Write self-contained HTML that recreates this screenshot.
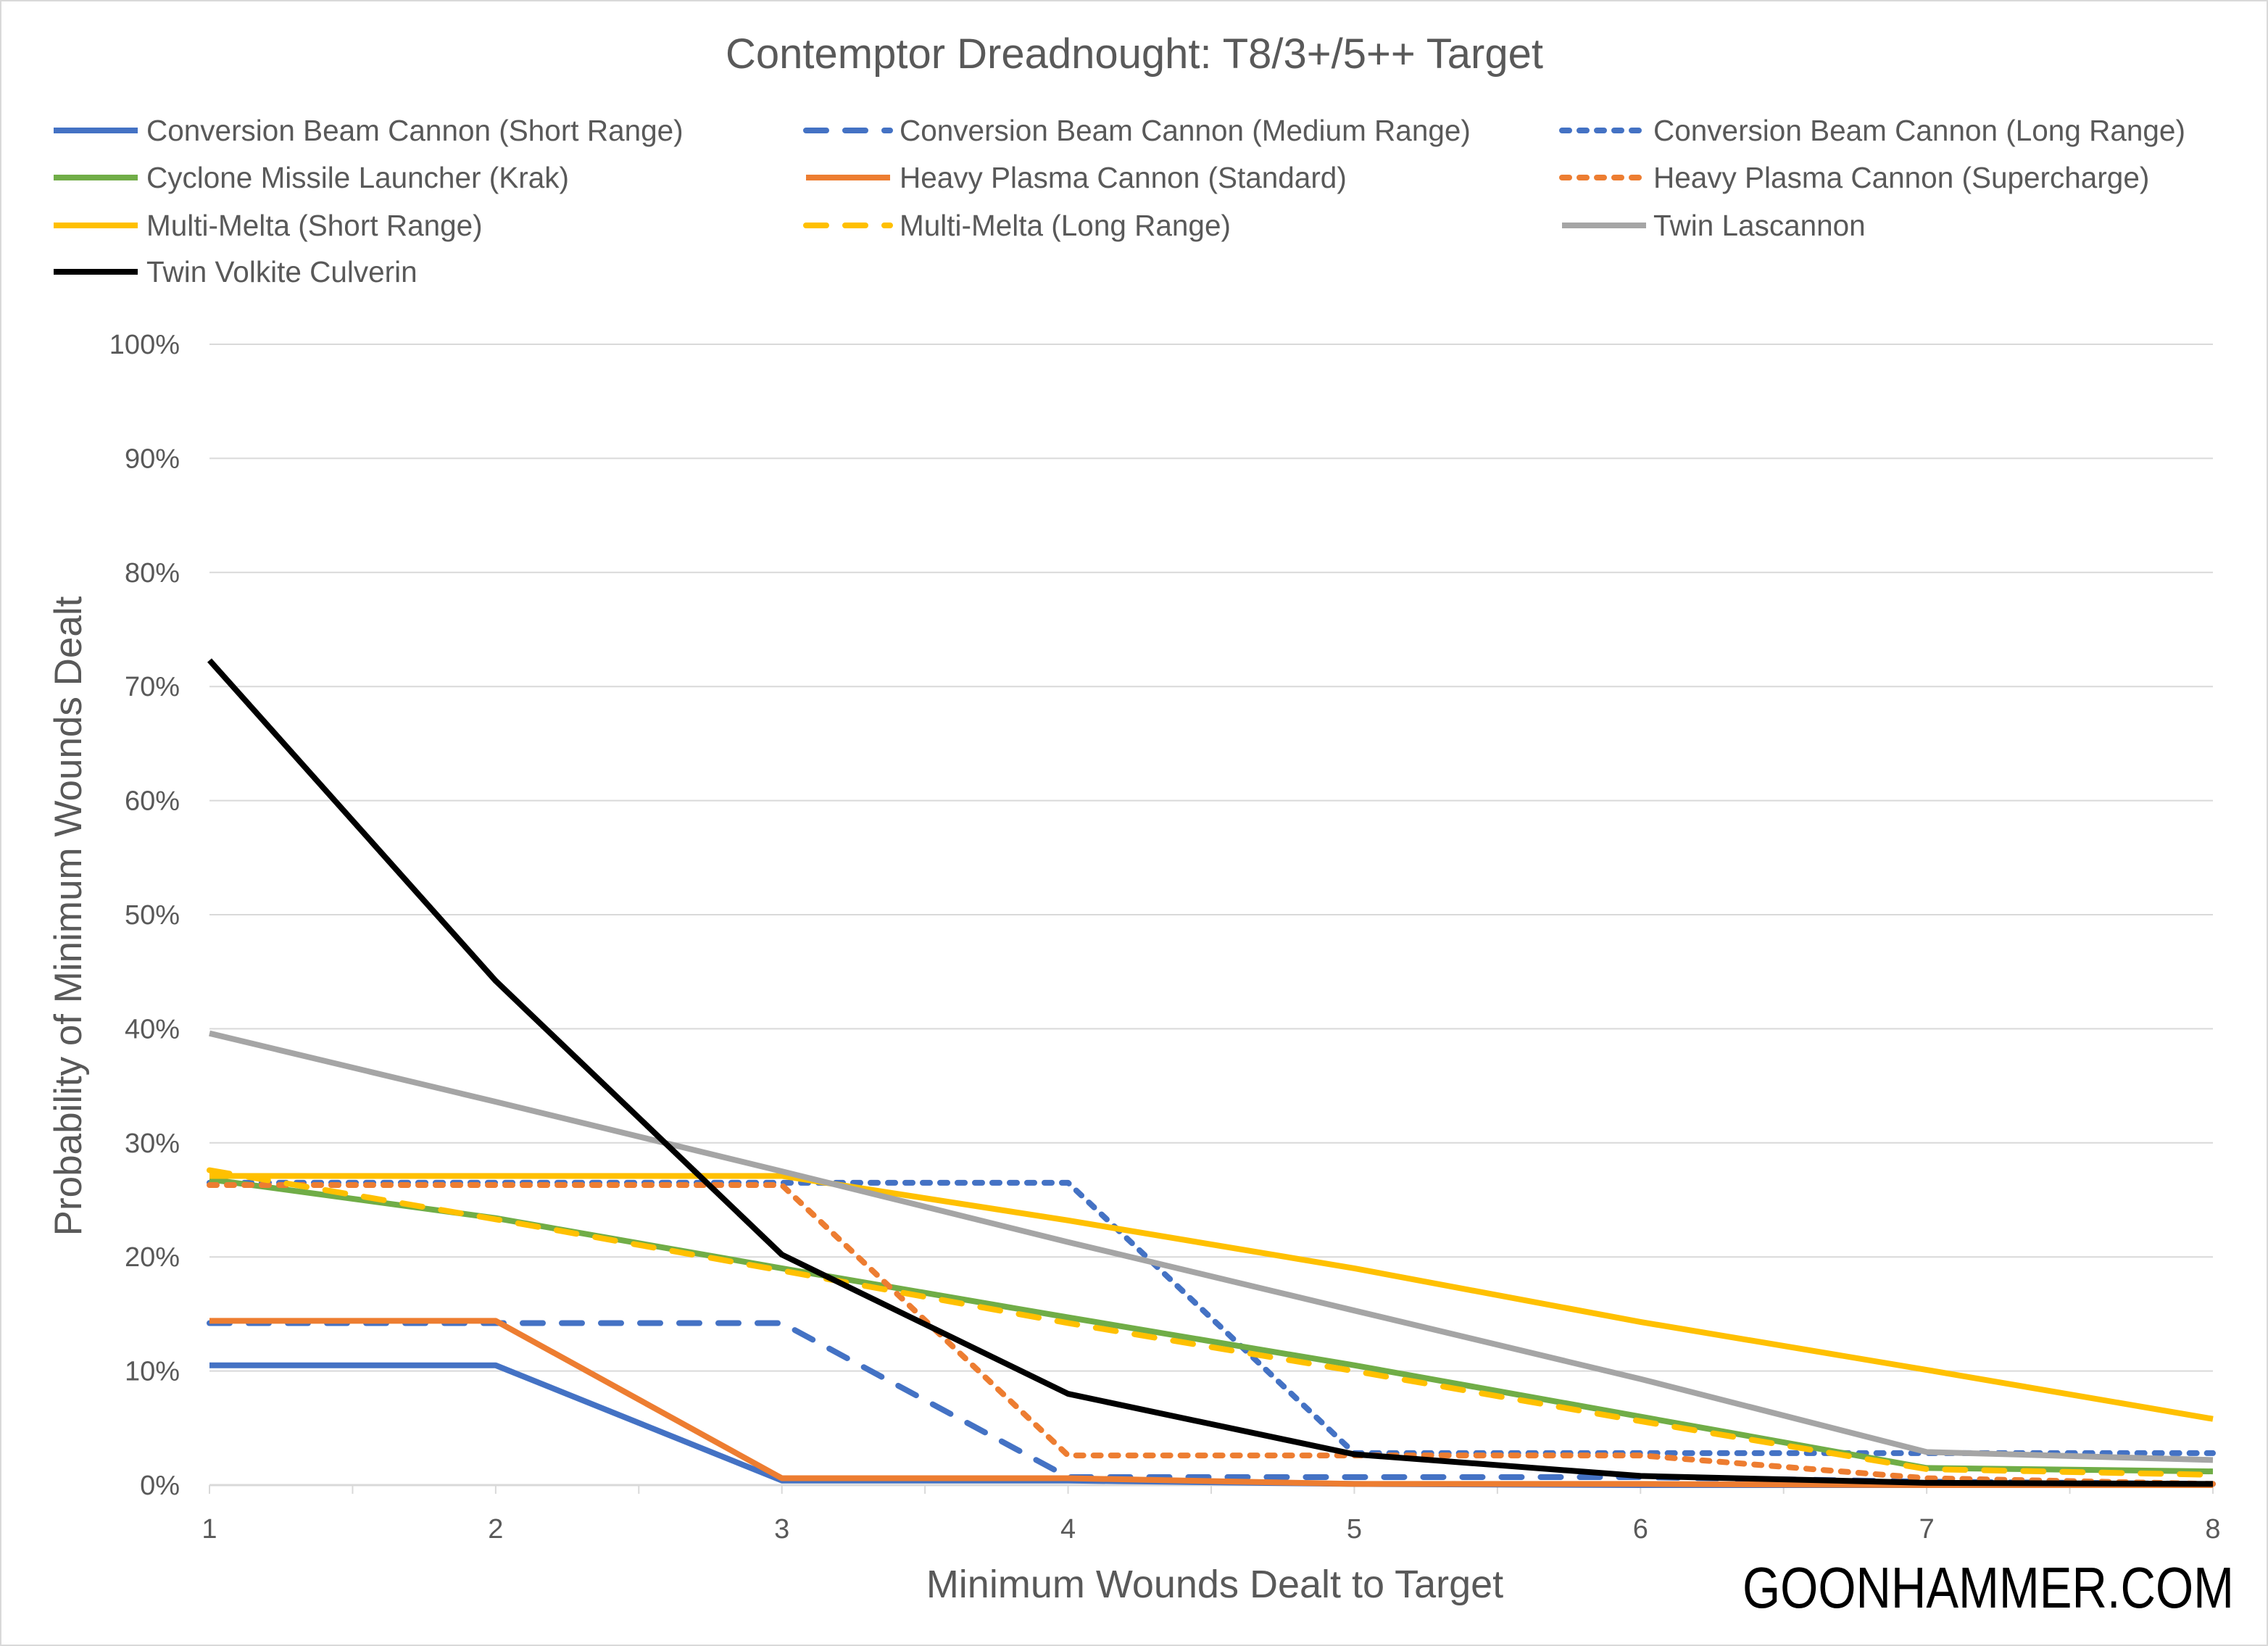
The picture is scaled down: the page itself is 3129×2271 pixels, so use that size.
<!DOCTYPE html>
<html><head><meta charset="utf-8"><style>
html,body{margin:0;padding:0;background:#fff}
svg{display:block;font-family:"Liberation Sans",sans-serif}
</style></head><body>
<svg id="chart" width="3129" height="2271" viewBox="0 0 3129 2271">
<rect x="1" y="1" width="3127" height="2269" fill="#fff" stroke="#d9d9d9" stroke-width="2"/>
<text x="1565" y="94" text-anchor="middle" font-size="58" fill="#595959">Contemptor Dreadnought: T8/3+/5++ Target</text>
<g id="grid"></g>
<g id="axes"></g>
<g id="series"></g>
<g id="legend"></g>
<text transform="translate(112,1264) rotate(-90)" text-anchor="middle" font-size="53" fill="#595959">Probability of Minimum Wounds Dealt</text>
<text x="1676" y="2204" text-anchor="middle" font-size="54" fill="#595959">Minimum Wounds Dealt to Target</text>
<text x="2404" y="2218" font-size="80" fill="#000" textLength="678" lengthAdjust="spacingAndGlyphs">GOONHAMMER.COM</text>
</svg>
<script>
const categories = [1,2,3,4,5,6,7,8];
const yTicks = [0,10,20,30,40,50,60,70,80,90,100];
const seriesNames = ["Conversion Beam Cannon (Short Range)","Conversion Beam Cannon (Medium Range)","Conversion Beam Cannon (Long Range)","Cyclone Missile Launcher (Krak)","Heavy Plasma Cannon (Standard)","Heavy Plasma Cannon (Supercharge)","Multi-Melta (Short Range)","Multi-Melta (Long Range)","Twin Lascannon","Twin Volkite Culverin"];
const cbcShort = [10.5,10.5,0.4,0.4,0.1,0,0,0];
const cbcMedium = [14.2,14.2,14.2,0.7,0.7,0.7,0.3,0.1];
const cbcLong = [26.5,26.5,26.5,26.5,2.8,2.8,2.8,2.8];
const cyclone = [26.8,23.4,19.0,14.7,10.5,6.0,1.5,1.2];
const hpcStd = [14.4,14.4,0.6,0.6,0.1,0.1,0,0];
const hpcSuper = [26.3,26.3,26.3,2.6,2.6,2.6,0.6,0.1];
const mmShort = [27.1,27.1,27.1,23.2,19.0,14.3,10.1,5.8];
const mmLong = [27.6,23.3,18.8,14.2,10.0,5.6,1.4,0.9];
const lascannon = [39.6,33.6,27.5,21.3,15.3,9.3,2.9,2.2];
const volkite = [72.3,44.2,20.2,8.0,2.7,0.8,0.2,0.1];

const NS="http://www.w3.org/2000/svg";
const X0=289, X1=3053, Y0=2049, Y1=475;
const xs = c => X0 + (c-1)*(X1-X0)/(categories.length-1);
const ys = v => Y0 - v/100*(Y0-Y1);
function mk(tag, attrs, parent){const e=document.createElementNS(NS,tag);for(const k in attrs)e.setAttribute(k,attrs[k]);parent.appendChild(e);return e;}
const grid=document.getElementById('grid'), axes=document.getElementById('axes'), ser=document.getElementById('series'), leg=document.getElementById('legend');
yTicks.forEach(t=>{
  const l=mk('line',{x1:X0,x2:X1,y1:ys(t),y2:ys(t),stroke:'#d9d9d9','stroke-width':2},grid);
  
  
  const tx=mk('text',{x:248,y:ys(t)+13,'text-anchor':'end','font-size':38,fill:'#595959'},axes);
  tx.textContent=t+'%';
  
  
});
const ax=mk('line',{x1:X0,x2:X1,y1:Y0,y2:Y0,stroke:'#d9d9d9','stroke-width':3},axes);


for(let i=0;i<categories.length*2-1;i++){
  const xx=X0+i*(X1-X0)/((categories.length-1)*2);
  const tk=mk('line',{x1:xx,x2:xx,y1:Y0,y2:Y0+12,stroke:'#d9d9d9','stroke-width':2},axes);
  
  
}
categories.forEach(c=>{
  const tx=mk('text',{x:xs(c),y:2122,'text-anchor':'middle','font-size':38,fill:'#595959'},axes);
  tx.textContent=c;
  
  
});
const styles=[
 {d:cbcShort,c:'#4472c4',dash:''},
 {d:cbcMedium,c:'#4472c4',dash:'28 26'},
 {d:cbcLong,c:'#4472c4',dash:'10 14'},
 {d:cyclone,c:'#70ad47',dash:''},
 {d:hpcStd,c:'#ed7d31',dash:''},
 {d:hpcSuper,c:'#ed7d31',dash:'10 14'},
 {d:mmShort,c:'#ffc000',dash:''},
 {d:mmLong,c:'#ffc000',dash:'28 26'},
 {d:lascannon,c:'#a5a5a5',dash:''},
 {d:volkite,c:'#000000',dash:''}
];
styles.forEach((s,i)=>{
  const pts=s.d.map((v,j)=>xs(categories[j])+','+ys(v)).join(' ');
  const p=mk('polyline',{points:pts,fill:'none',stroke:s.c,'stroke-width':8,'stroke-linejoin':'round','stroke-linecap':s.dash?'round':'butt','stroke-dasharray':s.dash||'none'},ser);
  
  
  const col=i%3, row=Math.floor(i/3);
  const lx=[70,1108,2151][col], tx=[202,1241,2281][col], ly=[180,245,311,375][row];
  const g=mk('g',{},leg);
  
  
  mk('line',{x1:lx+4,x2:lx+120,y1:ly,y2:ly,stroke:s.c,'stroke-width':8,'stroke-linecap':s.dash?'round':'butt','stroke-dasharray':s.dash||'none'},g);
  const t=mk('text',{x:tx,y:ly+14,'font-size':40.5,fill:'#595959'},g);
  t.textContent=seriesNames[i];
});
</script>
</body></html>
